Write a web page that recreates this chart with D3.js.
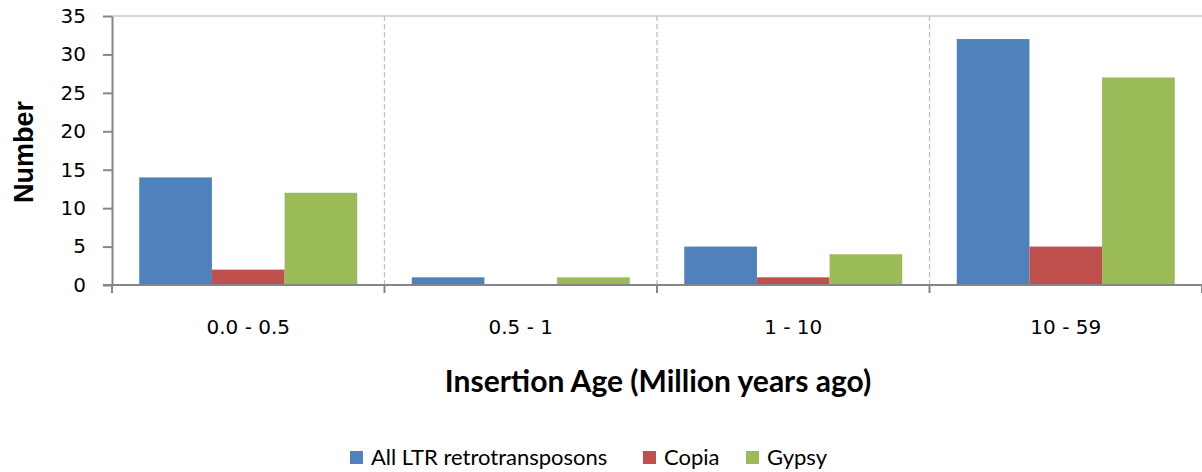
<!DOCTYPE html>
<html>
<head>
<meta charset="utf-8">
<script src="https://cdn.jsdelivr.net/npm/d3@7"></script>
<style>
  body { margin: 0; background: #fff; }
  svg text { fill: #000; }
</style>
</head>
<body>
<svg id="chart"></svg>
<script>
// Data
const categories = ['0.0 - 0.5', '0.5 - 1', '1 - 10', '10 - 59'];
const seriesNames = ['All LTR retrotransposons', 'Copia', 'Gypsy'];
const allLtr = [14, 1, 5, 32];
const copia = [2, 0, 1, 5];
const gypsy = [12, 1, 4, 27];
const yTicks = [0, 5, 10, 15, 20, 25, 30, 35];

const colors = ['#4F81BD', '#C0504D', '#9BBB59'];

// Canvas
let width = 1202;
let height = 472;
let margin = {left: 112, top: 16, right: 0, bottom: 187};

let svg = d3.select('#chart')
    .attr('width', width)
    .attr('height', height);

// Scales
let xScale = d3.scaleBand()
    .domain(categories)
    .range([margin.left, width - margin.right])
    .padding(0);

let xInner = d3.scaleBand()
    .domain(seriesNames)
    .range([0, xScale.bandwidth()])
    .paddingOuter(0.375)
    .paddingInner(0);

let yScale = d3.scaleLinear()
    .domain([0, 35])
    .range([height - margin.bottom, margin.top]);

// top gridline
svg.append('line')
    .attr('x1', margin.left).attr('x2', width)
    .attr('y1', yScale(35)).attr('y2', yScale(35))
    .attr('stroke', '#c8c8c8').attr('stroke-width', 1.3);

// dashed separators between categories
svg.selectAll('.sep')
    .data(categories.slice(1))
    .enter()
    .append('line')
    .attr('class', 'sep')
    .attr('x1', d => xScale(d)).attr('x2', d => xScale(d))
    .attr('y1', yScale(35)).attr('y2', yScale(0))
    .attr('stroke', '#bfbfbf')
    .attr('stroke-width', 1.3)
    .attr('stroke-dasharray', '5,3');

// bars
let rows = categories.map((c, i) => ({cat: c, vals: [allLtr[i], copia[i], gypsy[i]]}));

let groups = svg.selectAll('.grp')
    .data(rows)
    .enter()
    .append('g')
    .attr('class', 'grp')
    .attr('transform', d => 'translate(' + xScale(d.cat) + ',0)');

groups.selectAll('rect')
    .data(d => d.vals.map((v, j) => ({name: seriesNames[j], v: v, j: j})))
    .enter()
    .append('rect')
    .attr('x', d => xInner(d.name))
    .attr('width', xInner.bandwidth())
    .attr('y', d => yScale(d.v))
    .attr('height', d => yScale(0) - yScale(d.v))
    .attr('fill', d => colors[d.j]);

// Axes
let yAxis = d3.axisLeft(yScale).tickValues(yTicks).tickSize(9).tickSizeOuter(0);
let gY = svg.append('g')
    .attr('transform', 'translate(' + margin.left + ',0)')
    .call(yAxis);
gY.selectAll('path, line').attr('stroke', '#868686').attr('stroke-width', 2);
gY.selectAll('text')
    .attr('x', -26)
    .style('font-family', 'DejaVu Sans, sans-serif')
    .style('font-size', '20px')
    .attr('fill', '#000');

// x axis baseline + boundary ticks
let boundaries = categories.map(c => xScale(c)).concat([width]);
let gX = svg.append('g');
gX.append('line')
    .attr('x1', margin.left - 9).attr('x2', width)
    .attr('y1', yScale(0)).attr('y2', yScale(0))
    .attr('stroke', '#868686').attr('stroke-width', 2);
gX.selectAll('.bt')
    .data(boundaries)
    .enter()
    .append('line')
    .attr('x1', d => d).attr('x2', d => d)
    .attr('y1', yScale(0)).attr('y2', yScale(0) + 8)
    .attr('stroke', '#868686').attr('stroke-width', 2);
gX.selectAll('.lbl')
    .data(categories)
    .enter()
    .append('text')
    .attr('x', d => xScale(d) + xScale.bandwidth() / 2)
    .attr('y', 334)
    .attr('text-anchor', 'middle')
    .style('font-family', 'DejaVu Sans, sans-serif')
    .style('font-size', '20px')
    .text(d => d);

// Axis titles
svg.append('text')
    .attr('x', 658)
    .attr('y', 392)
    .attr('text-anchor', 'middle')
    .style('font-family', 'Lato, sans-serif')
    .style('font-weight', 'bold')
    .style('font-size', '30px')
    .text('Insertion Age (Million years ago)');

svg.append('text')
    .attr('transform', 'translate(33,152) rotate(-90)')
    .attr('text-anchor', 'middle')
    .style('font-family', 'Liberation Sans, Arial, sans-serif')
    .style('font-weight', 'bold')
    .style('font-size', '27px')
    .text('Number');

// Legend
let legendX = [350, 643, 746];
let legend = svg.selectAll('.leg')
    .data(seriesNames)
    .enter()
    .append('g')
    .attr('class', 'leg')
    .attr('transform', (d, i) => 'translate(' + legendX[i] + ',451)');
legend.append('rect')
    .attr('width', 13).attr('height', 13)
    .attr('fill', (d, i) => colors[i]);
legend.append('text')
    .attr('x', 21)
    .attr('y', 14)
    .style('font-family', 'Lato, sans-serif')
    .style('font-size', '22px')
    .text(d => d);
</script>
</body>
</html>
